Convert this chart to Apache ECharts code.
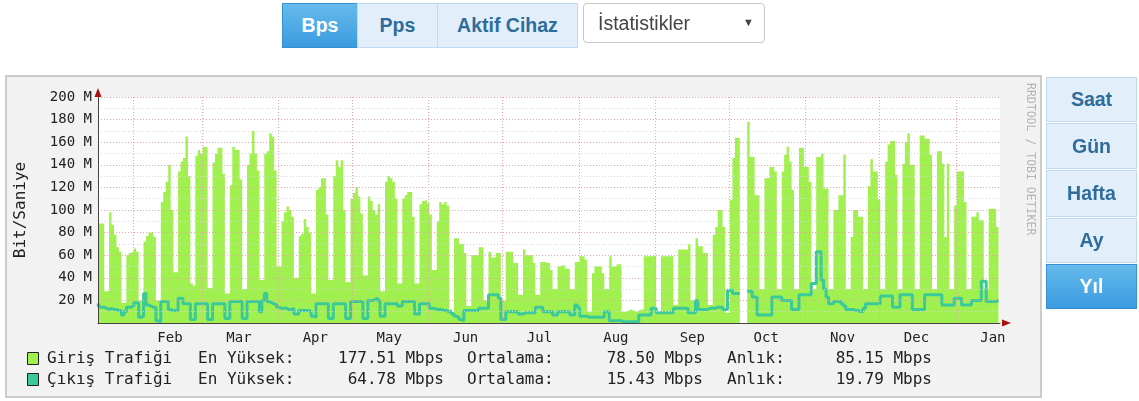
<!DOCTYPE html>
<html>
<head>
<meta charset="utf-8">
<script src="https://cdn.jsdelivr.net/npm/echarts@6/dist/echarts.min.js"></script>
<style>
  body { margin: 0; width: 1139px; height: 401px; background: #fff; position: relative; overflow: hidden; font-family: "Liberation Sans", Arial, sans-serif; }
  .frame { position: absolute; left: 5px; top: 75px; width: 1033px; height: 319px; border: 2px solid #cbcbcb; background: #f2f2f2; }
  #chart { position: absolute; left: 0; top: 0; width: 1139px; height: 401px; }
  .btn { position: absolute; box-sizing: border-box; display: flex; align-items: center; justify-content: center;
         font-weight: bold; font-size: 19.5px; color: #2f6c9c; background: #e2effa; border: 1px solid #bfdaf0; }
  .btn.on { color: #fff; background: linear-gradient(#66baec, #3a9ce0); border-color: #3590d4; }
  .sel { position: absolute; left: 583px; top: 3px; width: 182px; height: 40px; box-sizing: border-box; border: 1px solid #c8c8c8;
         border-radius: 4px; background: #fff; font-size: 19.5px; color: #444; }
  .sel span { position: absolute; left: 14px; top: 8px; }
  .sel i { position: absolute; right: 10px; top: 12px; font-style: normal; font-size: 11px; color: #444; }
</style>
</head>
<body>
<div class="frame"></div>
<div id="chart"></div>

<div class="btn on" style="left:282px;top:3px;width:76px;height:45px">Bps</div>
<div class="btn" style="left:357px;top:3px;width:81px;height:45px">Pps</div>
<div class="btn" style="left:437px;top:3px;width:141px;height:45px">Aktif Cihaz</div>
<div class="sel"><span>İstatistikler</span><i>▼</i></div>

<div class="btn" style="left:1046px;top:77px;width:91px;height:45px">Saat</div>
<div class="btn" style="left:1046px;top:123px;width:91px;height:46px">Gün</div>
<div class="btn" style="left:1046px;top:170px;width:91px;height:47px">Hafta</div>
<div class="btn" style="left:1046px;top:218px;width:91px;height:45px">Ay</div>
<div class="btn on" style="left:1046px;top:264px;width:91px;height:45px">Yıl</div>

<script>
// x ekseni: gün (0 = grafiğin sol kenarı), ay başları ve etiketleri
const monthStarts = [14.7, 42.7, 73.7, 103.7, 134.7, 164.7, 195.7, 226.7, 256.7, 287.7, 317.7, 348.7]
const monthNames = ['Feb', 'Mar', 'Apr', 'May', 'Jun', 'Jul', 'Aug', 'Sep', 'Oct', 'Nov', 'Dec', 'Jan']
const yTicks = [0, 20, 40, 60, 80, 100, 120, 140, 160, 180, 200]

// günlük giriş trafiği (Mbps), haftalık satırlar: Cmt, Paz, Pzt ... Cum
const girisTrafigi = [
  92, 88, 88,
  28, 28, 98, 87, 78, 67, 63,
  18, 18, 60, 62, 63, 66, 63,
  20, 20, 72, 77, 80, 80, 76,
  20, 19, 107, 116, 125, 140, 100,
  45, 45, 134, 143, 146, 165, 130,
  35, 33, 148, 153, 150, 156, 155,
  31, 31, 142, 150, 155, 155, 132,
  26, 26, 122, 156, 153, 153, 127,
  30, 30, 140, 150, 170, 150, 135,
  38, 38, 150, 152, 168, 165, 135,
  50, 50, 90, 98, 103, 100, 94,
  40, 40, 77, 79, 92, 85, 80,
  26, 26, 118, 120, 128, 128, 96,
  38, 38, 130, 144, 138, 144, 100,
  36, 36, 110, 115, 120, 112, 97,
  42, 42, 112, 108, 100, 96, 105,
  28, 28, 125, 130, 128, 125, 110,
  35, 35, 110, 113, 116, 116, 94,
  35, 35, 105, 108, 109, 106, 96,
  47, 47, 90, 107, 105, 107, 104,
  12, 10, 75, 75, 70, 70, 62,
  15, 15, 60, 60, 60, 67, 67,
  20, 20, 63, 58, 58, 62, 62,
  20, 20, 63, 63, 63, 53, 53,
  25, 25, 65, 60, 60, 60, 53,
  25, 25, 54, 54, 53, 53, 47,
  30, 30, 50, 51, 51, 48, 48,
  30, 30, 54, 54, 59, 59, 56,
  10, 10, 44, 50, 50, 50, 44,
  30, 30, 59, 50, 50, 52, 52,
  10, 10, 11, 12, 11, 10, 11,
  12, 12, 59, 59, 59, 59, 60,
  10, 10, 59, 59, 59, 59, 59,
  16, 16, 65, 65, 65, 65, 70,
  20, 20, 75, 68, 68, 62, 62,
  16, 16, 78, 85, 100, 100, 85,
  9, 9, 109, 146, 164, 164, null,
  null, null, 178, 147, 147, 113, 113,
  30, 30, 128, 128, 138, 138, 134,
  30, 30, 134, 149, 156, 143, 118,
  30, 30, 155, 155, 138, 138, 125,
  30, 30, 147, 147, 150, 119, 119,
  30, 30, 100, 100, 113, 113, 149,
  30, 30, 76, 100, 100, 94, 94,
  30, 30, 121, 145, 134, 134, 109,
  30, 30, 143, 158, 161, 161, 131,
  30, 30, 141, 160, 168, 140, 140,
  30, 30, 166, 166, 163, 163, 149,
  30, 30, 152, 152, 141, 76, 141,
  30, 30, 104, 134, 134, 134, 107,
  30, 30, 94, 94, 98, 91, 91,
  30, 30, 101, 101, 101, 85
]

// günlük çıkış trafiği (Mbps)
const cikisTrafigi = [
  16, 14, 14,
  13, 12, 13, 12, 12, 11, 11,
  7, 10, 14, 14, 15, 18, 18,
  5, 6, 26, 16, 15, 14, 14,
  2, 1, 19, 19, 19, 12, 11,
  11, 11, 22, 22, 17, 17, 17,
  3, 3, 17, 17, 17, 17, 17,
  3, 3, 17, 17, 17, 17, 17,
  4, 4, 19, 19, 19, 19, 19,
  4, 4, 19, 19, 19, 19, 19,
  10, 20, 26, 19, 18, 17, 16,
  14, 13, 13, 13, 12, 12, 13,
  8, 8, 11, 11, 11, 11, 10,
  6, 5, 17, 17, 17, 17, 17,
  4, 4, 17, 17, 17, 17, 17,
  4, 4, 19, 19, 19, 19, 19,
  4, 4, 20, 20, 21, 22, 20,
  6, 6, 17, 17, 17, 17, 17,
  15, 15, 19, 19, 19, 19, 19,
  8, 8, 17, 17, 17, 17, 13,
  13, 12, 12, 12, 11, 11, 10,
  10, 8, 6, 5, 3, 2, 11,
  11, 11, 11, 11, 11, 13, 13,
  13, 13, 25, 25, 25, 25, 22,
  3, 3, 10, 10, 10, 10, 10,
  8, 8, 9, 9, 9, 9, 9,
  14, 14, 14, 10, 10, 10, 10,
  7, 7, 10, 10, 10, 10, 10,
  7, 7, 16, 14, 6, 6, 6,
  5, 5, 5, 5, 5, 5, 5,
  10, 10, 2, 2, 2, 2, 2,
  1, 1, 1, 1, 1, 1, 1,
  7, 7, 7, 7, 7, 13, 13,
  9, 9, 9, 9, 9, 9, 9,
  13, 13, 13, 13, 13, 13, 9,
  9, 9, 20, 12, 12, 12, 12,
  13, 13, 13, 14, 14, 14, 12,
  12, 29, 29, 26, 26, 26, null,
  null, null, 28, 28, 23, 23, 7,
  7, 7, 7, 7, 7, 23, 23,
  23, 23, 20, 20, 20, 20, 12,
  12, 12, 25, 25, 25, 25, 25,
  35, 35, 63, 63, 38, 30, 23,
  17, 17, 19, 19, 19, 17, 15,
  12, 12, 12, 11, 11, 10, 10,
  13, 17, 17, 17, 17, 17, 17,
  24, 24, 24, 24, 24, 14, 14,
  14, 25, 25, 25, 25, 25, 12,
  12, 12, 12, 12, 25, 25, 25,
  25, 25, 25, 25, 16, 16, 16,
  16, 16, 22, 22, 22, 16, 16,
  16, 16, 20, 20, 20, 20, 37,
  37, 19, 19, 19, 19, 20
]

const legendRows = [
  { name: 'Giriş Trafiği', color: '#a0f050', max: '177.51 Mbps', avg: '78.50 Mbps', last: '85.15 Mbps' },
  { name: 'Çıkış Trafiği', color: '#3cc99a', max: '64.78 Mbps', avg: '15.43 Mbps', last: '19.79 Mbps' }
]

const MONO = 'DejaVu Sans Mono'
const GRID_RED = '#eda3a3'

// her gün [k, k+1] aralığını kaplayan basamak
const toSteps = (arr) => {
  const out = []
  arr.forEach((v, k) => {
    if (v == null) out.push([k, null])
    else out.push([k, v], [k + 1, v])
  })
  return out
}

const labelPos = monthStarts.map(m => m + 15)

const chart = echarts.init(document.getElementById('chart'))

const graphic = []
legendRows.forEach((row, i) => {
  const y = 359 + i * 21
  const txt = (x, text, align) => ({
    type: 'text', x, y,
    style: { text, font: `16px "${MONO}"`, fill: '#222', align: align || 'left', verticalAlign: 'middle' }
  })
  graphic.push(
    { type: 'rect', shape: { x: 27.5, y: y - 6.5, width: 11, height: 12 }, style: { fill: row.color, stroke: '#222', lineWidth: 1 } },
    txt(47, row.name),
    txt(198, 'En Yüksek:'),
    txt(444, row.max, 'right'),
    txt(467, 'Ortalama:'),
    txt(703, row.avg, 'right'),
    txt(727, 'Anlık:'),
    txt(932, row.last, 'right')
  )
})
// eksen okları (rrdtool tarzı kırmızı)
graphic.push(
  { type: 'polygon', shape: { points: [[1002, 319.5], [1011, 323], [1002, 326.5]] }, style: { fill: '#a11' }, z: 10 },
  { type: 'polygon', shape: { points: [[94.5, 97], [98, 88], [101.5, 97]] }, style: { fill: '#a11' }, z: 10 },
  {
    type: 'text', x: 1030, y: 83, rotation: -Math.PI / 2,
    style: { text: 'RRDTOOL / TOBI OETIKER', font: `11.5px "${MONO}"`, fill: '#b4b4b4', verticalAlign: 'middle' }
  }
)

const option = {
  animation: false,
  grid: { left: 98, top: 97, width: 902, height: 226, show: true, backgroundColor: '#fff', borderWidth: 0 },
  xAxis: {
    type: 'value',
    min: 0.5,
    max: 366.6,
    z: 4,
    axisLine: { show: true, lineStyle: { color: '#444' } },
    axisTick: { show: false, customValues: monthStarts },
    splitLine: { show: true, lineStyle: { color: GRID_RED, type: [1, 2] } },
    axisLabel: {
      customValues: labelPos,
      formatter: (v) => monthNames[labelPos.indexOf(v)] || '',
      fontFamily: MONO, fontSize: 14, color: '#222', margin: 8
    }
  },
  yAxis: {
    type: 'value',
    min: yTicks[0],
    max: yTicks[yTicks.length - 1],
    interval: 20,
    z: 4,
    name: 'Bit/Saniye',
    nameLocation: 'middle',
    nameRotate: 90,
    nameGap: 69,
    nameTextStyle: { fontFamily: MONO, fontSize: 16, color: '#222' },
    axisLine: { show: true, lineStyle: { color: '#444' } },
    axisTick: { show: false },
    axisLabel: { formatter: (v) => (v ? v + ' M' : ''), fontFamily: MONO, fontSize: 14, color: '#222', margin: 6 },
    splitLine: { show: true, lineStyle: { color: GRID_RED, type: [1, 2] } },
    minorTick: { show: false, splitNumber: 2 },
    minorSplitLine: { show: true, lineStyle: { color: '#d6d6d6', type: [1, 2] } }
  },
  graphic,
  series: [
    {
      name: 'Giriş Trafiği',
      type: 'line',
      data: toSteps(girisTrafigi),
      symbol: 'none',
      lineStyle: { width: 0 },
      areaStyle: { color: '#a0f050', opacity: 1 },
      z: 2
    },
    {
      name: 'Çıkış Trafiği',
      type: 'line',
      data: toSteps(cikisTrafigi),
      symbol: 'none',
      lineStyle: { width: 3, color: '#3cc99a' },
      z: 3
    }
  ]
}

chart.setOption(option)
</script>
</body>
</html>
